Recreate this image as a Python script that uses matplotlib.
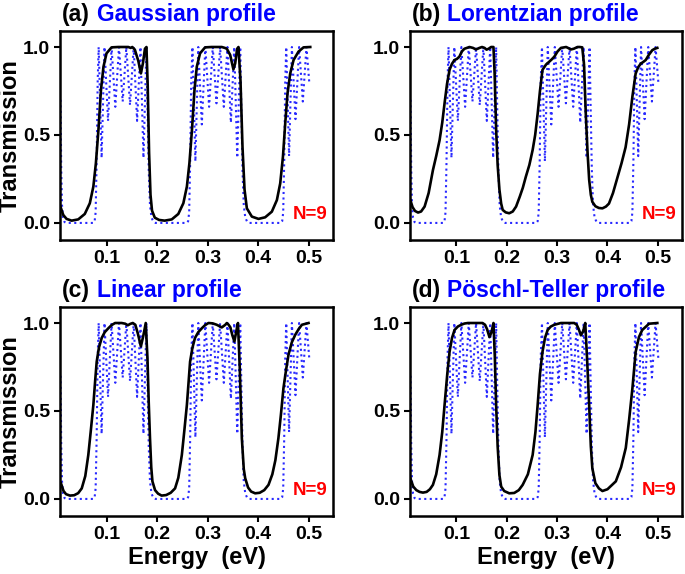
import matplotlib
matplotlib.use("Agg")
import matplotlib.pyplot as plt

plt.rcParams['font.family'] = ['Liberation Sans', 'DejaVu Sans']
plt.rcParams['font.weight'] = 'bold'

# ---------------- data ----------------
# reference (regular superlattice) transmission, blue dotted (same in all panels)
E_ref = [0.009, 0.0105, 0.012, 0.014, 0.017, 0.020,
         0.074, 0.0765, 0.0785, 0.0805, 0.0825,
         0.0845, 0.0903, 0.0960, 0.1030, 0.1100, 0.1174, 0.1247, 0.1320, 0.1392, 0.1465,
         0.1537, 0.1605, 0.1672, 0.1731, 0.1790,
         0.1812, 0.1835, 0.186, 0.189, 0.193, 0.197,
         0.259, 0.2615, 0.2635, 0.2655, 0.2675,
         0.2700, 0.2758, 0.2815, 0.2885, 0.2955, 0.3029, 0.3102, 0.3175, 0.3247, 0.3320,
         0.3392, 0.3460, 0.3527, 0.3586, 0.3645,
         0.3667, 0.369, 0.3715, 0.3745, 0.3785, 0.382,
         0.445, 0.4475, 0.4495, 0.4515, 0.4535,
         0.4555, 0.4611, 0.4667, 0.4738, 0.4810, 0.4883, 0.4955, 0.5010]
T_ref = [0.70, 0.30, 0.10, 0.03, 0.005, 0.0,
         0.0, 0.01, 0.06, 0.35, 0.80,
         1.0, 0.37, 1.0, 0.58, 1.0, 0.66, 1.0, 0.69, 1.0, 0.67,
         1.0, 0.58, 1.0, 0.37, 1.0,
         0.65, 0.30, 0.10, 0.03, 0.005, 0.0,
         0.0, 0.01, 0.06, 0.35, 0.80,
         1.0, 0.35, 1.0, 0.56, 1.0, 0.66, 1.0, 0.68, 1.0, 0.66,
         1.0, 0.57, 1.0, 0.37, 1.0,
         0.65, 0.30, 0.10, 0.03, 0.005, 0.0,
         0.0, 0.01, 0.06, 0.35, 0.80,
         1.0, 0.38, 1.0, 0.59, 1.0, 0.69, 1.0, 0.80]

# (a) Gaussian profile
E_a = [0.008, 0.0145, 0.021, 0.031, 0.044, 0.057, 0.067, 0.074, 0.079, 0.084, 0.089, 0.094,
       0.100, 0.110, 0.123, 0.143, 0.148, 0.151, 0.156, 0.163, 0.168, 0.172, 0.176, 0.179,
       0.1815, 0.1842, 0.187, 0.190, 0.1955, 0.204, 0.215, 0.229, 0.242, 0.252, 0.259,
       0.264, 0.269, 0.274, 0.2786, 0.285, 0.295, 0.308, 0.328, 0.334, 0.338, 0.3446,
       0.351, 0.3545, 0.3584, 0.361, 0.365, 0.369, 0.373, 0.3776, 0.3875, 0.4006, 0.4138,
       0.427, 0.437, 0.4436, 0.449, 0.4535, 0.458, 0.4634, 0.470, 0.4798, 0.4897, 0.503]
T_a = [0.10, 0.045, 0.023, 0.013, 0.02, 0.051, 0.112, 0.207, 0.34, 0.528, 0.755, 0.888,
       0.964, 0.998, 1.0, 1.0, 0.995, 1.0, 0.985, 0.92, 0.85, 0.907, 0.99, 1.0,
       0.78, 0.40, 0.16, 0.07, 0.03, 0.017, 0.013, 0.02, 0.051, 0.112, 0.207,
       0.34, 0.528, 0.755, 0.888, 0.964, 0.998, 1.0, 1.0, 0.995, 0.99, 0.955,
       0.873, 0.907, 0.99, 1.0, 0.81, 0.43, 0.19, 0.083, 0.036, 0.023, 0.032,
       0.064, 0.13, 0.225, 0.377, 0.566, 0.736, 0.85, 0.926, 0.974, 0.998, 1.0]

# (b) Lorentzian profile
E_b = [0.0087, 0.013, 0.018, 0.024, 0.030, 0.037, 0.045, 0.0535, 0.060, 0.0667, 0.072, 0.0766,
       0.0815, 0.0865, 0.0914, 0.0964, 0.101, 0.106, 0.111, 0.116, 0.126, 0.133, 0.139, 0.146,
       0.151, 0.156, 0.160, 0.164, 0.169, 0.1737, 0.176, 0.179, 0.182, 0.1855, 0.189, 0.192,
       0.198, 0.205, 0.212, 0.2186, 0.226, 0.232, 0.238, 0.245, 0.2515, 0.2565, 0.2614, 0.266,
       0.271, 0.278, 0.2846, 0.2895, 0.2945, 0.301, 0.3077, 0.318, 0.323, 0.327, 0.333, 0.3406,
       0.345, 0.350, 0.3535, 0.357, 0.3605, 0.3637, 0.367, 0.370, 0.376, 0.383, 0.390, 0.397,
       0.403, 0.411, 0.420, 0.428, 0.436, 0.443, 0.4496, 0.456, 0.461, 0.466, 0.471, 0.476,
       0.482, 0.489, 0.494, 0.499]
T_b = [0.13, 0.09, 0.068, 0.059, 0.065, 0.093, 0.17, 0.30, 0.38, 0.47, 0.57, 0.68,
       0.79, 0.87, 0.905, 0.926, 0.932, 0.945, 0.975, 0.99, 1.0, 0.995, 0.986, 0.995,
       1.0, 0.995, 0.985, 0.99, 1.0, 1.0, 0.85, 0.53, 0.33, 0.19, 0.11, 0.074,
       0.06, 0.055, 0.065, 0.093, 0.15, 0.20, 0.263, 0.33, 0.415, 0.50, 0.62, 0.75,
       0.87, 0.90, 0.917, 0.93, 0.945, 0.975, 0.995, 1.0, 0.993, 0.986, 0.99, 1.0,
       1.0, 0.998, 0.90, 0.62, 0.40, 0.245, 0.16, 0.12, 0.095, 0.085, 0.083, 0.093,
       0.11, 0.17, 0.26, 0.34, 0.43, 0.56, 0.72, 0.85, 0.885, 0.905, 0.915, 0.926,
       0.955, 0.982, 0.99, 0.995]

# (c) Linear profile
E_c = [0.0099, 0.015, 0.020, 0.0277, 0.036, 0.044, 0.051, 0.058, 0.064, 0.069, 0.074, 0.0775,
       0.0806, 0.085, 0.0905, 0.0965, 0.1036, 0.110, 0.117, 0.130, 0.137, 0.142, 0.147, 0.152,
       0.157, 0.162, 0.168, 0.173, 0.1776, 0.181, 0.1835, 0.186, 0.1885, 0.1908, 0.196, 0.202,
       0.209, 0.218, 0.227, 0.2356, 0.242, 0.249, 0.254, 0.259, 0.2625, 0.2653, 0.270, 0.275,
       0.2815, 0.2885, 0.295, 0.3017, 0.310, 0.318, 0.328, 0.335, 0.338, 0.3415, 0.345, 0.349,
       0.353, 0.3565, 0.360, 0.3635, 0.3677, 0.3715, 0.3743, 0.380, 0.386, 0.394, 0.403, 0.412,
       0.4204, 0.428, 0.434, 0.440, 0.445, 0.450, 0.455, 0.460, 0.4665, 0.4733, 0.480, 0.4865,
       0.4996]
T_c = [0.089, 0.045, 0.027, 0.019, 0.021, 0.033, 0.06, 0.13, 0.25, 0.39, 0.535, 0.67,
       0.78, 0.86, 0.915, 0.948, 0.97, 0.988, 1.0, 1.0, 0.996, 0.987, 0.995, 1.0,
       0.99, 0.94, 0.867, 0.93, 1.0, 0.80, 0.55, 0.345, 0.18, 0.10, 0.05, 0.03,
       0.019, 0.022, 0.035, 0.06, 0.12, 0.25, 0.39, 0.535, 0.67, 0.78, 0.86, 0.915,
       0.948, 0.97, 0.988, 1.0, 0.998, 0.99, 0.975, 0.99, 1.0, 0.99, 0.975, 0.93,
       0.895, 0.95, 1.0, 0.75, 0.345, 0.17, 0.118, 0.065, 0.042, 0.032, 0.035, 0.05,
       0.08, 0.14, 0.22, 0.345, 0.48, 0.63, 0.73, 0.82, 0.89, 0.933, 0.965, 0.99,
       1.0]

# (d) Pöschl-Teller profile
E_d = [0.0087, 0.0145, 0.0206, 0.027, 0.0337, 0.041, 0.0475, 0.0535, 0.060, 0.0667, 0.072, 0.0766,
       0.082, 0.0865, 0.0914, 0.0964, 0.103, 0.1097, 0.116, 0.123, 0.152, 0.157, 0.161, 0.1657,
       0.170, 0.1737, 0.1765, 0.179, 0.182, 0.1855, 0.189, 0.195, 0.205, 0.215, 0.224, 0.2317,
       0.242, 0.2515, 0.257, 0.2614, 0.266, 0.271, 0.276, 0.2812, 0.2875, 0.2945, 0.3077, 0.334,
       0.339, 0.343, 0.3473, 0.352, 0.3559, 0.3595, 0.3637, 0.367, 0.370, 0.376, 0.383, 0.390,
       0.400, 0.4166, 0.427, 0.4364, 0.443, 0.4496, 0.456, 0.4625, 0.469, 0.4826, 0.499]
T_d = [0.117, 0.07, 0.05, 0.04, 0.036, 0.04, 0.055, 0.08, 0.14, 0.25, 0.38, 0.533,
       0.71, 0.836, 0.915, 0.96, 0.98, 0.99, 0.997, 1.0, 1.0, 0.99, 0.965, 0.92,
       0.95, 1.0, 0.80, 0.533, 0.30, 0.136, 0.07, 0.045, 0.032, 0.034, 0.05, 0.08,
       0.14, 0.25, 0.38, 0.533, 0.71, 0.836, 0.915, 0.96, 0.98, 0.99, 1.0, 1.0,
       0.99, 0.965, 0.93, 0.955, 1.0, 0.80, 0.533, 0.30, 0.174, 0.09, 0.06, 0.045,
       0.055, 0.10, 0.18, 0.29, 0.45, 0.63, 0.836, 0.92, 0.96, 0.996, 1.0]

panel_letters = ["(a)", "(b)", "(c)", "(d)"]
panel_titles = ["Gaussian profile", "Lorentzian profile", "Linear profile", "Pöschl-Teller profile"]
x_ticks = [0.1, 0.2, 0.3, 0.4, 0.5]
x_ticklabels = ["0.1", "0.2", "0.3", "0.4", "0.5"]
y_ticks = [0.0, 0.5, 1.0]
y_ticklabels = ["0.0", "0.5", "1.0"]
n_label = "N=9"
x_label = "Energy  (eV)"
y_label = "Transmission"

# ---------------- figure ----------------
W, H = 685, 574
fig = plt.figure(figsize=(W / 100, H / 100), dpi=100)

def frac(l, t, r, b):
    return [l / W, 1 - b / H, (r - l) / W, (b - t) / H]

boxes = [frac(60, 31, 333, 240), frac(410, 31, 682, 240),
         frac(60, 307, 333, 516), frac(410, 307, 682, 516)]
curves = [(E_a, T_a), (E_b, T_b), (E_c, T_c), (E_d, T_d)]

for i, box in enumerate(boxes):
    ax = fig.add_axes(box)
    ax.plot(E_ref, T_ref, linestyle=':', color='#2828ff', lw=1.5)
    ax.plot(curves[i][0], curves[i][1], color='black', lw=1.9)
    ax.set_xlim(0.008, 0.548)
    ax.set_ylim(-0.097, 1.091)
    ax.set_xticks(x_ticks)
    ax.set_xticklabels(x_ticklabels)
    ax.set_yticks(y_ticks)
    ax.set_yticklabels(y_ticklabels)
    ax.tick_params(direction='out', length=4, width=1.5, labelsize=14, pad=3)
    for lab in ax.get_xticklabels() + ax.get_yticklabels():
        lab.set_fontweight('bold')
    for s in ax.spines.values():
        s.set_linewidth(1.8)
    ax.text(0.916, 0.12, n_label, transform=ax.transAxes, color='#ff0000',
            fontsize=13.5, fontweight='bold', ha='center', va='center')
    ax.text(0.008, 1.078, panel_letters[i], transform=ax.transAxes, color='black',
            fontsize=16.5, fontweight='bold', ha='left', va='center')
    ax.text(0.135, 1.078, panel_titles[i], transform=ax.transAxes, color='#0000ff',
            fontsize=16.5, fontweight='bold', ha='left', va='center')
    if i in (0, 2):
        ax.set_ylabel(y_label, fontsize=17, fontweight='bold', va='center')
        ax.yaxis.set_label_coords(-0.183, 0.5)
    if i in (2, 3):
        ax.set_xlabel(x_label, fontsize=17, fontweight='bold')
        ax.xaxis.set_label_coords(0.5, -0.2)
        ax.xaxis.label.set_va('center')

fig.savefig("out.png", dpi=100)
